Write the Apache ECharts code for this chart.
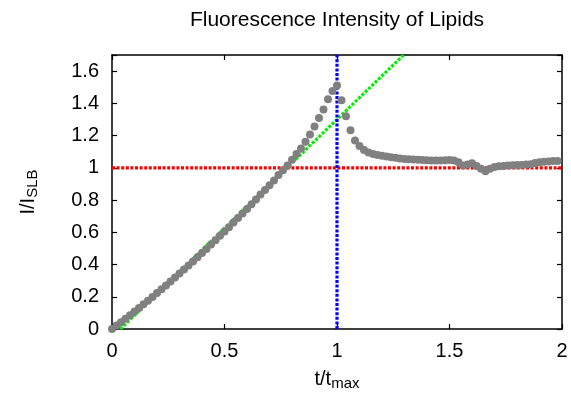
<!DOCTYPE html>
<html><head><meta charset="utf-8">
<script src="https://cdn.jsdelivr.net/npm/echarts@6/dist/echarts.min.js"></script>
<style>html,body{margin:0;padding:0;background:#fff}#c{width:571px;height:396px}</style>
</head><body><div id="c"></div>
<script>
// measured normalised intensity I/I_SLB against normalised time t/t_max
const tValues = [
  0.00,0.02,0.04,0.06,0.08,0.10,0.12,0.14,0.16,0.18,
  0.20,0.22,0.24,0.26,0.28,0.30,0.32,0.34,0.36,0.38,
  0.40,0.42,0.44,0.46,0.48,0.50,0.52,0.54,0.56,0.58,
  0.60,0.62,0.64,0.66,0.68,0.70,0.72,0.74,0.76,0.78,
  0.80,0.82,0.84,0.86,0.88,0.90,0.92,0.94,0.96,0.98,
  1.00,1.02,1.04,1.06,1.08,1.10,1.12,1.14,1.16,1.18,
  1.20,1.22,1.24,1.26,1.28,1.30,1.32,1.34,1.36,1.38,
  1.40,1.42,1.44,1.46,1.48,1.50,1.52,1.54,1.56,1.58,
  1.60,1.62,1.64,1.66,1.68,1.70,1.72,1.74,1.76,1.78,
  1.80,1.82,1.84,1.86,1.88,1.90,1.92,1.94,1.96,1.98
];
const intensity = [
  0.000,0.021,0.042,0.064,0.086,0.108,0.130,0.153,0.176,0.199,
  0.223,0.246,0.270,0.294,0.319,0.344,0.369,0.394,0.419,0.445,
  0.471,0.497,0.524,0.551,0.578,0.605,0.632,0.660,0.688,0.717,
  0.745,0.774,0.803,0.835,0.862,0.892,0.922,0.955,0.985,1.015,
  1.050,1.085,1.120,1.162,1.206,1.257,1.309,1.362,1.426,1.477,
  1.510,1.420,1.320,1.233,1.170,1.135,1.110,1.095,1.085,1.080,
  1.075,1.070,1.065,1.062,1.058,1.055,1.053,1.051,1.050,1.048,
  1.047,1.046,1.046,1.046,1.047,1.048,1.046,1.035,1.015,1.020,
  1.028,1.012,0.995,0.978,0.995,1.005,1.010,1.012,1.014,1.016,
  1.017,1.018,1.020,1.022,1.030,1.035,1.038,1.040,1.042,1.043
];
const refLevel  = [[0, 1], [2, 1]];          // I = I_SLB
const tMaxLine  = [[1, 0], [1, 1.7]];        // t = t_max
const linearFit = [[0.037, 0], [1.296, 1.7]]; // initial linear growth

const xMin = 0, xMax = 2, xStep = 0.5;
const yMin = 0, yMax = 1.7, yStep = 0.2;

const FONT = 'Liberation Sans, Arial, Helvetica, sans-serif';
const chart = echarts.init(document.getElementById('c'), null, {renderer: 'canvas'});
const frame = {show: true, onZero: false, lineStyle: {color: '#000', width: 1.5}};
const ticks = {show: true, inside: true, length: 5, lineStyle: {color: '#000', width: 1.2}};
const nameRich = {
  m: {fontSize: 20, lineHeight: 22, verticalAlign: 'top', fontFamily: FONT, color: '#000'},
  s: {fontSize: 15, lineHeight: 16, verticalAlign: 'bottom', padding: [10, 0, 0, 0], fontFamily: FONT, color: '#000'}
};
const dotted = (c) => ({color: c, width: 3.2, type: [3, 1.6], cap: 'butt'});

chart.setOption({
  animation: false,
  backgroundColor: '#fff',
  title: {
    text: 'Fluorescence Intensity of Lipids',
    left: 337, top: 10, padding: 0, textAlign: 'center',
    textStyle: {fontSize: 21, fontWeight: 'normal', color: '#000', fontFamily: FONT}
  },
  grid: {left: 112, right: 9, top: 55, bottom: 66.5, containLabel: false},
  xAxis: [
    {type: 'value', min: xMin, max: xMax, interval: xStep, position: 'bottom',
     axisLine: frame, axisTick: ticks, splitLine: {show: false},
     axisLabel: {fontSize: 20, color: '#000', margin: 12, fontFamily: FONT},
     name: '{m|t/t}{s|max}', nameLocation: 'middle', nameGap: 40,
     nameTextStyle: {rich: nameRich}},
    {type: 'value', min: xMin, max: xMax, interval: xStep, position: 'top',
     axisLine: frame, axisTick: ticks, splitLine: {show: false}, axisLabel: {show: false}}
  ],
  yAxis: [
    {type: 'value', min: yMin, max: yMax, interval: yStep, position: 'left',
     axisLine: frame, axisTick: ticks, splitLine: {show: false},
     axisLabel: {fontSize: 20, color: '#000', margin: 13, fontFamily: FONT,
       formatter: v => v > 1.65 ? '' : String(+v.toFixed(1))},
     name: '{m|I/I}{s|SLB}', nameLocation: 'middle', nameGap: 72, nameRotate: 90,
     nameTextStyle: {rich: nameRich}},
    {type: 'value', min: yMin, max: yMax, interval: yStep, position: 'right',
     axisLine: frame, axisTick: ticks, splitLine: {show: false}, axisLabel: {show: false}}
  ],
  series: [
    {type: 'line', data: linearFit, symbol: 'none', lineStyle: dotted('#00f000'), z: 2, silent: true},
    {type: 'line', data: refLevel, symbol: 'none', lineStyle: dotted('#ff0000'), z: 3, silent: true},
    {type: 'line', data: tMaxLine, symbol: 'none', lineStyle: dotted('#0000ff'), z: 4, silent: true},
    {type: 'scatter', data: tValues.map((t, i) => [t, intensity[i]]), symbol: 'circle', symbolSize: 8,
     itemStyle: {color: '#808080', opacity: 1}, z: 5, clip: false, silent: true}
  ]
});
</script></body></html>
